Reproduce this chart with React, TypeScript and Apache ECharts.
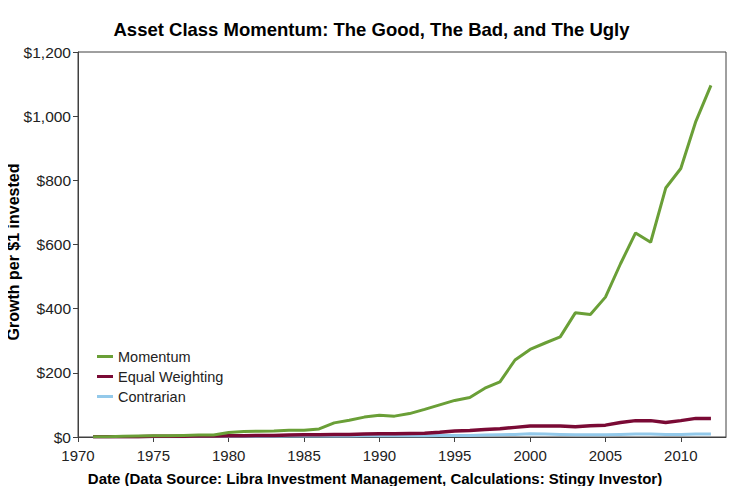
import React, { useEffect, useRef } from "react";
import * as echarts from "echarts";

const years = [1971,1972,1973,1974,1975,1976,1977,1978,1979,1980,1981,1982,1983,1984,1985,1986,1987,1988,1989,1990,1991,1992,1993,1994,1995,1996,1997,1998,1999,2000,2001,2002,2003,2004,2005,2006,2007,2008,2009,2010,2011,2012];

const momentum = [1,1,2,3,4,4,5,6,6,14,17,18,19,21,21,25,44,52,62,68,65,73,86,100,114,123,152,172,240,273,293,312,387,382,436,540,636,607,776,837,984,1096];

const equalWeighting = [1,1,1,1,2,2,2,3,3,4,4,5,5,6,7,7,8,8,9,10,10,11,12,15,19,20,23,26,30,34,34,34,32,35,37,45,51,51,45,51,58,58];

const contrarian = [1,1,1,1,1,1,1,2,2,2,2,2,2,3,3,3,3,3,4,4,4,4,4,5,5,5,6,7,8,10,9,8,7,7,7,8,9,9,8,8,9,9];

const seriesNames = ["Momentum", "Equal Weighting", "Contrarian"];
const seriesColors = ["#6A9F37", "#7A0A35", "#93C9EA"];

const titleText = "Asset Class Momentum: The Good, The Bad, and The Ugly";
const xAxisTitle = "Date (Data Source: Libra Investment Management, Calculations: Stingy Investor)";
const yAxisTitle = "Growth per $1 invested";

const FONT = "'Liberation Sans', Arial, sans-serif";

export default function App() {
  const ref = useRef<HTMLDivElement>(null);
  useEffect(() => {
    if (!ref.current) return;
    const chart = echarts.init(ref.current, undefined, { renderer: "svg" });
    const toPairs = (vals: number[]) => years.map((y, i) => [y, vals[i]]);
    const allData = [momentum, equalWeighting, contrarian];
    chart.setOption({
      animation: false,
      backgroundColor: "#ffffff",
      textStyle: { fontFamily: FONT },
      title: {
        text: titleText,
        left: "center",
        top: 15,
        textStyle: { fontSize: 18.5, fontWeight: "bold", color: "#000", fontFamily: FONT },
      },
      grid: {
        left: 78,
        right: 17,
        top: 52,
        bottom: 57,
        show: true,
        borderColor: "#404040",
        borderWidth: 1,
        backgroundColor: "transparent",
      },
      legend: {
        orient: "vertical",
        left: 92,
        top: 344,
        itemWidth: 16,
        itemHeight: 3,
        itemGap: 5,
        icon: "rect",
        data: seriesNames,
        textStyle: { fontSize: 14.5, color: "#222", fontFamily: FONT },
      },
      xAxis: {
        type: "value",
        min: 1970,
        max: 2013,
        interval: 5,
        axisLine: { show: true, lineStyle: { color: "#404040" } },
        axisTick: { show: true, length: 5, lineStyle: { color: "#404040" } },
        splitLine: { show: false },
        axisLabel: {
          showMaxLabel: false,
          fontSize: 15,
          color: "#222",
          margin: 11,
          fontFamily: FONT,
          formatter: (v: number) => (v % 5 === 0 ? String(v) : ""),
        },
      },
      yAxis: {
        type: "value",
        min: 0,
        max: 1200,
        interval: 200,
        axisLine: { show: true, lineStyle: { color: "#404040" } },
        axisTick: { show: true, length: 5, lineStyle: { color: "#404040" } },
        splitLine: { show: false },
        axisLabel: {
          fontSize: 15.5,
          color: "#222",
          margin: 7,
          fontFamily: FONT,
          formatter: (v: number) => "$" + v.toLocaleString("en-US"),
        },
      },
      graphic: [
        {
          type: "text",
          x: 375,
          y: 478,
          style: {
            text: xAxisTitle,
            font: `bold 15px ${FONT}`,
            fill: "#000",
            align: "center",
            verticalAlign: "middle",
          },
        },
        {
          type: "text",
          x: 13,
          y: 252,
          rotation: Math.PI / 2,
          style: {
            text: yAxisTitle,
            font: `bold 16px ${FONT}`,
            fill: "#000",
            align: "center",
            verticalAlign: "middle",
          },
        },
      ],
      series: [2, 1, 0].map((i) => ({
        name: seriesNames[i],
        type: "line",
        data: toPairs(allData[i]),
        symbol: "none",
        z: 10 - i,
        lineStyle: { color: seriesColors[i], width: i === 1 ? 3.5 : 3 },
        itemStyle: { color: seriesColors[i] },
      })),
    });
    return () => chart.dispose();
  }, []);
  return <div ref={ref} style={{ width: 743, height: 494, margin: -8 }} />;
}
